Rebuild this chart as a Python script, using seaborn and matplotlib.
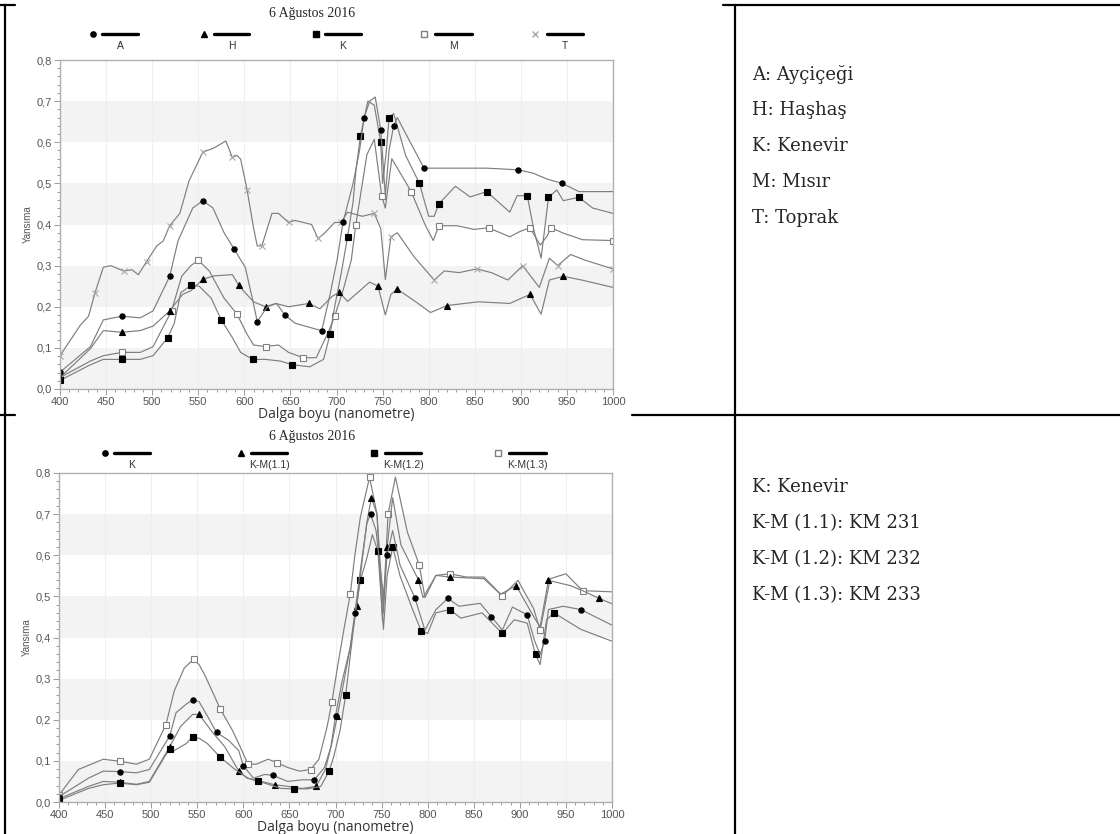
import numpy as np
import pandas as pd
import matplotlib
matplotlib.use('Agg')
import matplotlib.pyplot as plt
import seaborn as sns
from matplotlib.lines import Line2D
from matplotlib.transforms import Affine2D
from matplotlib.ticker import MultipleLocator, FuncFormatter

sns.set_style('white')
plt.rcParams['font.family'] = ['Liberation Sans', 'DejaVu Sans']

# ---- top chart: 6 Agustos 2016, crops + soil ----
a_wl = [400,433,447,467,487,501,519,528,544,555,566,578,589,601,609,614,625,635,644,655,677,684,693,701,707,718,725,730,736,742,748,753,757,762,766,780,795,829,863,897,913,929,945,963,1000]
a_val = [0.041,0.103,0.168,0.177,0.173,0.19,0.274,0.36,0.44,0.458,0.44,0.38,0.34,0.296,0.217,0.164,0.2,0.208,0.18,0.16,0.146,0.142,0.23,0.318,0.405,0.50,0.58,0.66,0.70,0.71,0.63,0.47,0.58,0.64,0.66,0.60,0.537,0.537,0.537,0.533,0.525,0.51,0.50,0.48,0.48]

h_wl = [400,433,447,467,487,501,519,533,542,555,567,587,594,601,610,623,634,648,670,682,695,703,712,736,745,753,759,766,786,802,820,854,888,910,922,931,946,966,1000]
h_val = [0.028,0.098,0.142,0.138,0.142,0.153,0.19,0.23,0.239,0.267,0.275,0.278,0.252,0.234,0.212,0.2,0.208,0.2,0.208,0.195,0.225,0.235,0.213,0.26,0.25,0.18,0.23,0.243,0.212,0.186,0.203,0.212,0.208,0.23,0.182,0.265,0.274,0.265,0.247]

k_wl = [400,433,447,467,487,501,517,524,531,542,551,564,575,587,596,609,623,639,652,671,686,693,698,705,712,718,721,726,734,741,748,750,754,757,762,775,790,800,806,811,829,845,863,888,896,907,914,922,930,939,946,963,978,1000]
k_val = [0.021,0.059,0.072,0.072,0.072,0.081,0.125,0.16,0.234,0.252,0.25,0.221,0.168,0.125,0.089,0.072,0.072,0.068,0.059,0.054,0.072,0.133,0.20,0.28,0.37,0.455,0.53,0.616,0.70,0.69,0.60,0.50,0.576,0.66,0.67,0.568,0.50,0.42,0.42,0.45,0.493,0.467,0.48,0.43,0.47,0.47,0.388,0.318,0.466,0.484,0.458,0.466,0.44,0.427]

m_wl = [400,433,447,467,487,501,521,532,542,550,562,578,592,603,610,623,637,648,664,678,691,698,707,716,721,733,741,749,753,760,781,796,805,811,831,849,865,888,899,910,921,928,933,946,967,1000]
m_val = [0.028,0.068,0.081,0.089,0.089,0.103,0.19,0.274,0.30,0.313,0.287,0.221,0.182,0.133,0.107,0.103,0.107,0.089,0.076,0.076,0.138,0.177,0.239,0.313,0.40,0.57,0.607,0.47,0.44,0.56,0.48,0.40,0.361,0.397,0.397,0.388,0.392,0.37,0.383,0.392,0.35,0.37,0.392,0.379,0.363,0.361]

t_wl = [400,422,431,438,447,455,469,478,485,494,505,512,519,530,540,555,566,580,587,592,596,603,610,614,619,630,637,648,655,673,680,687,698,705,712,728,741,748,753,759,766,784,806,817,833,852,868,886,902,920,931,940,954,970,1000]
t_val = [0.081,0.155,0.177,0.234,0.296,0.30,0.287,0.29,0.278,0.31,0.348,0.36,0.397,0.427,0.506,0.576,0.585,0.603,0.563,0.568,0.559,0.484,0.392,0.348,0.348,0.427,0.427,0.405,0.41,0.40,0.366,0.379,0.405,0.405,0.43,0.42,0.427,0.39,0.266,0.37,0.38,0.322,0.265,0.287,0.283,0.292,0.283,0.265,0.30,0.247,0.318,0.30,0.327,0.313,0.292]

# ---- bottom chart: kenevir + mixtures ----
bk_wl = [400,432,448,466,484,498,520,527,538,545,552,561,571,584,595,600,611,623,632,648,664,677,688,695,700,707,716,721,727,734,738,744,752,756,762,770,786,797,809,822,834,857,869,881,892,908,916,922,927,931,947,966,1000]
bk_val = [0.013,0.058,0.075,0.074,0.071,0.079,0.16,0.217,0.238,0.248,0.244,0.209,0.169,0.15,0.125,0.088,0.058,0.067,0.065,0.05,0.054,0.054,0.084,0.134,0.209,0.292,0.376,0.46,0.564,0.677,0.70,0.66,0.50,0.60,0.66,0.576,0.497,0.418,0.468,0.495,0.476,0.483,0.451,0.418,0.474,0.455,0.392,0.359,0.392,0.468,0.476,0.468,0.43]

km11_wl = [400,432,448,466,484,498,520,532,545,552,566,580,595,604,616,634,648,664,679,689,696,702,709,716,723,727,734,739,745,752,756,762,771,790,795,809,824,861,879,896,916,922,931,955,968,986,1000]
km11_val = [0.008,0.038,0.05,0.048,0.043,0.05,0.134,0.184,0.213,0.213,0.171,0.134,0.075,0.058,0.052,0.042,0.038,0.033,0.038,0.079,0.142,0.209,0.292,0.376,0.476,0.551,0.68,0.74,0.70,0.46,0.62,0.74,0.625,0.54,0.497,0.551,0.547,0.543,0.505,0.526,0.447,0.426,0.539,0.526,0.514,0.495,0.482]

km12_wl = [400,432,448,466,484,498,520,525,538,545,552,561,575,591,605,616,623,641,655,670,684,693,698,705,711,716,721,727,734,740,746,752,756,762,770,784,793,800,809,824,836,859,881,894,908,917,922,929,937,966,1000]
km12_val = [0.004,0.033,0.042,0.046,0.042,0.048,0.13,0.125,0.142,0.159,0.155,0.142,0.109,0.079,0.058,0.05,0.046,0.033,0.032,0.032,0.038,0.075,0.109,0.175,0.259,0.355,0.451,0.539,0.593,0.65,0.61,0.42,0.55,0.62,0.55,0.466,0.416,0.41,0.46,0.468,0.447,0.46,0.41,0.443,0.435,0.359,0.334,0.443,0.46,0.42,0.391]

km13_wl = [400,421,448,466,484,498,516,525,536,546,552,559,575,588,595,605,614,627,636,648,661,673,682,691,696,702,709,716,721,727,737,745,751,757,765,778,791,797,809,824,842,861,881,898,915,922,933,950,968,1000]
km13_val = [0.017,0.079,0.104,0.099,0.092,0.104,0.188,0.27,0.326,0.347,0.334,0.305,0.226,0.175,0.142,0.092,0.092,0.104,0.096,0.084,0.075,0.079,0.104,0.184,0.242,0.326,0.418,0.505,0.60,0.693,0.79,0.70,0.44,0.70,0.79,0.656,0.576,0.497,0.551,0.555,0.547,0.547,0.501,0.539,0.47,0.418,0.543,0.555,0.514,0.511]

top_labels = ['A', 'H', 'K', 'M', 'T']
bottom_labels = ['K', 'K-M(1.1)', 'K-M(1.2)', 'K-M(1.3)']
top_notes = ['A: Ayçiçeği', 'H: Haşhaş', 'K: Kenevir', 'M: Mısır', 'T: Toprak']
bottom_notes = ['K: Kenevir', 'K-M (1.1): KM 231', 'K-M (1.2): KM 232', 'K-M (1.3): KM 233']
title = '6 Ağustos 2016'

# marker styles
mk = {
    'o': dict(marker='o', markersize=3.8, markerfacecolor='black', markeredgecolor='black'),
    '^': dict(marker='^', markersize=4.2, markerfacecolor='black', markeredgecolor='black'),
    's': dict(marker='s', markersize=4, markerfacecolor='black', markeredgecolor='black'),
    'os': dict(marker='s', markersize=4.4, markerfacecolor='white', markeredgecolor='#808080'),
    'x': dict(marker='x', markersize=4, markerfacecolor='none', markeredgecolor='#a8a8a8'),
}
LINE = '#7e7e7e'

W, H = 1120, 834
fig = plt.figure(figsize=(W / 100, H / 100), dpi=100)
px = Affine2D().scale(1 / W, -1 / H).translate(0, 1) + fig.transFigure


def make_ax(l, t, r, b):
    ax = fig.add_axes([l / W, 1 - b / H, (r - l) / W, (b - t) / H])
    for lo in [0.0, 0.2, 0.4, 0.6]:
        ax.axhspan(lo, lo + 0.1, color='#f3f3f3', lw=0, zorder=0)
    ax.set_xlim(400, 1000)
    ax.set_ylim(0, 0.8)
    ax.xaxis.set_major_locator(MultipleLocator(50))
    ax.xaxis.set_minor_locator(MultipleLocator(10))
    ax.yaxis.set_major_locator(MultipleLocator(0.1))
    ax.yaxis.set_minor_locator(MultipleLocator(0.02))
    ax.yaxis.set_major_formatter(FuncFormatter(lambda v, p: f'{v:.1f}'.replace('.', ',')))
    ax.grid(axis='x', which='major', color='#efefef', lw=0.8)
    ax.set_axisbelow(True)
    ax.tick_params(which='both', bottom=True, left=True, direction='out', color='#999999', width=0.7)
    ax.tick_params(which='major', length=4, labelsize=8, labelcolor='#555555', pad=1.5)
    ax.tick_params(which='minor', length=2.5)
    for s in ax.spines.values():
        s.set_color('#b0b0b0')
        s.set_linewidth(1)
    ax.set_xlabel('Dalga boyu (nanometre)', fontsize=10, color='#333333', family='Open Sans', labelpad=0)
    ax.set_ylabel('Yansıma', fontsize=7, color='#555555', labelpad=3)
    return ax


def draw(ax, wl, val, style):
    sns.lineplot(x=wl, y=val, ax=ax, color=LINE, lw=0.85, estimator=None,
                 markevery=3, markeredgewidth=0.8, **mk[style])


def legend(items, y):
    for style, xm, x0, x1, lab in items:
        fig.add_artist(Line2D([xm], [y], transform=px, linestyle='none', **mk[style]))
        fig.add_artist(Line2D([x0, x1], [y, y], transform=px, color='black', lw=2.4))
        fig.text((x0 + x1) / 2, y + 12, lab, transform=px, ha='center', va='center',
                 fontsize=7.5, color='#333333')


# top panel
ax1 = make_ax(60, 60, 613, 389)
draw(ax1, t_wl, t_val, 'x')
draw(ax1, m_wl, m_val, 'os')
draw(ax1, h_wl, h_val, '^')
draw(ax1, k_wl, k_val, 's')
draw(ax1, a_wl, a_val, 'o')
fig.text(312, 14, title, transform=px, ha='center', va='center', fontsize=10, family='Liberation Serif')
legend([('o', 93, 102, 138, top_labels[0]),
        ('^', 204, 214, 249, top_labels[1]),
        ('s', 316, 325, 361, top_labels[2]),
        ('os', 424, 435, 472, top_labels[3]),
        ('x', 535, 547, 583, top_labels[4])], 34)

# bottom panel
ax2 = make_ax(59, 473, 612, 802)
draw(ax2, km13_wl, km13_val, 'os')
draw(ax2, km11_wl, km11_val, '^')
draw(ax2, km12_wl, km12_val, 's')
draw(ax2, bk_wl, bk_val, 'o')
fig.text(312, 437, title, transform=px, ha='center', va='center', fontsize=10, family='Liberation Serif')
legend([('o', 105, 114, 150, bottom_labels[0]),
        ('^', 241, 251, 287, bottom_labels[1]),
        ('s', 374, 385, 421, bottom_labels[2]),
        ('os', 498, 509, 546, bottom_labels[3])], 453)

# table lines
def seg(x0, y0, x1, y1):
    fig.add_artist(Line2D([x0, x1], [y0, y1], transform=px, color='black', lw=1.6))

seg(0, 5, 15, 5)
seg(723, 5, W, 5)
seg(5, 5, 5, H)
seg(735, 5, 735, H)
seg(0, 415, 15, 415)
seg(632, 415, W, 415)

# right-hand notes
for i, s in enumerate(top_notes):
    fig.text(752, 74 + i * 36, s, transform=px, ha='left', va='center', fontsize=13, family='DejaVu Serif')
for i, s in enumerate(bottom_notes):
    fig.text(752, 487 + i * 36, s, transform=px, ha='left', va='center', fontsize=13, family='DejaVu Serif')

fig.savefig('out.png', dpi=100)
